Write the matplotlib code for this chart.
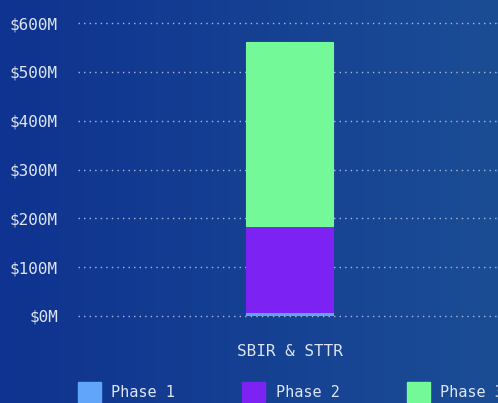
import matplotlib
matplotlib.use("Agg")
import matplotlib.pyplot as plt
import numpy as np
from matplotlib.colors import LinearSegmentedColormap
from matplotlib.patches import Patch
from matplotlib.ticker import FuncFormatter, MultipleLocator

# Award funding by phase (millions of dollars)
categories = ["SBIR & STTR"]
phase_names = ["Phase 1", "Phase 2", "Phase 3"]
phase1 = [9]
phase2 = [175]
phase3 = [377]
phase_colors = ["#60a5fa", "#7c22f2", "#74f999"]

W, H = 498, 403
fig = plt.figure(figsize=(W / 100, H / 100), dpi=100)

# Horizontal background gradient
bg = fig.add_axes([0, 0, 1, 1], zorder=-10)
grad = np.linspace(0, 1, 256).reshape(1, -1)
cmap = LinearSegmentedColormap.from_list("bg", ["#0f3390", "#1b4d95"])
bg.imshow(grad, aspect="auto", cmap=cmap, extent=[0, 1, 0, 1])
bg.set_axis_off()

text_color = "#dde4f2"
font = "DejaVu Sans Mono"

left, right = 78, 501
y0, y600 = 316, 23
ax = fig.add_axes([left / W, (H - y0) / H, (right - left) / W, (y0 - y600) / H])
ax.set_facecolor("none")

x = np.arange(len(categories))
bw = 0.206
bottom = np.zeros(len(categories))
for vals, name, col in zip([phase1, phase2, phase3], phase_names, phase_colors):
    ax.bar(x, vals, bw, bottom=bottom, color=col, edgecolor=col, linewidth=0.8,
           label=name, zorder=3)
    bottom += np.array(vals)

ax.set_xlim(-0.5, 0.5)
ax.set_ylim(0, 600)
ax.yaxis.set_major_locator(MultipleLocator(100))
ax.yaxis.set_major_formatter(FuncFormatter(lambda v, p: f"${v:.0f}M"))
ax.set_xticks(x)
ax.set_xticklabels(categories)

ax.grid(axis="y", color="#b9c6e0", linestyle=(0, (1, 3)), linewidth=1.0, alpha=0.9, zorder=0)
ax.grid(axis="x", visible=False)
for gl in ax.get_ygridlines():
    gl.set_clip_on(False)
for s in ax.spines.values():
    s.set_visible(False)
ax.tick_params(axis="both", length=0, colors=text_color, labelsize=11.5)
ax.tick_params(axis="y", pad=14.4)
ax.tick_params(axis="x", pad=20.5)
for lbl in ax.get_xticklabels() + ax.get_yticklabels():
    lbl.set_fontfamily(font)

handles = [Patch(facecolor=c, edgecolor=c) for c in phase_colors]
leg = fig.legend(handles, phase_names, loc="upper left",
                 bbox_to_anchor=(78 / W, 1 - 382 / H), ncol=3, frameon=False,
                 prop={"family": font, "size": 11}, handlelength=1.5,
                 handleheight=1.6, handletextpad=0.68, columnspacing=4.4,
                 borderpad=0, borderaxespad=0)
for t in leg.get_texts():
    t.set_color(text_color)

fig.savefig("out.png", dpi=100)
